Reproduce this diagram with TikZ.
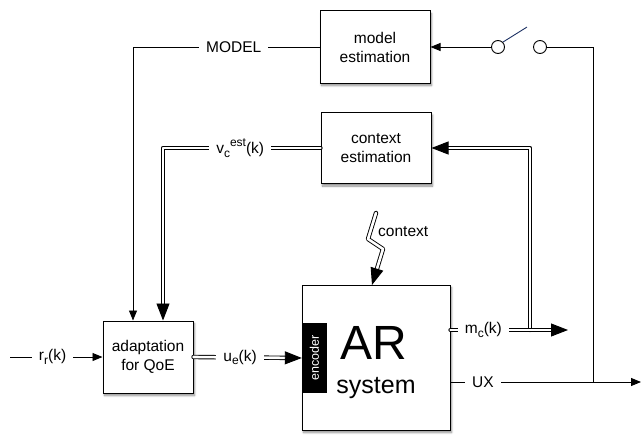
\documentclass[tikz,border=0pt]{standalone}
\usepackage{fontspec}
\setmainfont{Liberation Sans}
\usetikzlibrary{arrows.meta,shadows,shadows.blur,calc}
\definecolor{navyblade}{RGB}{30,50,100}
\newcommand\mysub[1]{\raisebox{-0.45ex}{\fontsize{12}{14}\selectfont #1}}
\newcommand\mysup[1]{\raisebox{0.85ex}{\fontsize{12}{14}\selectfont #1}}
\begin{document}
\begin{tikzpicture}[x=1pt,y=-1pt,
  txt/.style={font=\fontsize{15.5}{19}\selectfont},
  boxnode/.style={draw, line width=1pt, fill=white, txt, align=center, inner sep=0pt,
     blur shadow={shadow xshift=1.5pt, shadow yshift=-2.5pt, shadow blur steps=6, shadow opacity=45}},
  lbl/.style={fill=white, txt, inner xsep=7pt, inner ysep=1pt},
  sarr/.style={line width=0.9pt, -{Triangle[length=10pt,width=8pt]}},
  plain/.style={line width=0.9pt},
  dbl/.style={double, double distance=2.6pt, line width=0.9pt, line cap=round, line join=round,
     -{Triangle[length=17pt,width=13pt]}},
  swc/.style={circle, draw, line width=0.9pt, fill=white, minimum size=13pt, inner sep=0pt}
]
\useasboundingbox (0,0) rectangle (642,436);

% boxes
\node[boxnode, minimum width=110pt, minimum height=72pt] (model) at (375,47) {model\\estimation};
\node[boxnode, minimum width=110pt, minimum height=71pt] (ctx) at (376,148) {context\\estimation};
\node[boxnode, minimum width=90pt, minimum height=72pt] (adapt) at (148,357) {adaptation\\for QoE};
\node[boxnode, minimum width=148pt, minimum height=145pt] (AR) at (376,357.5) {};
\node[fill=black, minimum width=25pt, minimum height=70pt, inner sep=0pt] (enc) at (314.5,358) {};
\node[text=white, rotate=90, font=\fontsize{12.5}{14}\selectfont] (enctxt) at (enc.center) {encoder};
\node[font=\fontsize{48}{50}\selectfont, inner sep=0pt] (artxt) at (374,343) {AR};
\node[font=\fontsize{25}{28}\selectfont, inner sep=0pt] (systxt) at (376,388) {system};

% switch
\node[swc] (sw1) at (498,47) {};
\node[swc] (sw2) at (540,47) {};
\draw[sarr] (sw1.west) -- (model.east);
\draw[line width=0.9pt, navyblade] (sw1.north east) -- ++(24,-15);

% coordinates
\coordinate (cM) at (133,47);
\coordinate (cV) at (163,148);
\coordinate (rin) at (10,357);
\coordinate (mcJ) at (530,330);
\coordinate (mcEnd) at (568,330);
\coordinate (uxJ) at (593,382);
\coordinate (uxEnd) at (641,382);
\coordinate (lt1) at (376,213);
\coordinate (lt2) at (368,239);
\coordinate (lt3) at (383,249);
\coordinate (lt4) at (372,285);

% MODEL path
\draw[sarr] (model.west) -- node[lbl, pos=0.46] (modellbl) {MODEL} (cM) -- (adapt.north -| cM);
% v_c est path
\draw[dbl] (ctx.west) -- node[lbl, pos=0.51] (vlbl) {v\mysub{c}\mysup{est}(k)} (cV) -- (adapt.north -| cV);
% r_r input
\draw[sarr] (rin) -- node[lbl, pos=0.46] (rlbl) {r\mysub{r}(k)} (adapt.west);
% u_e
\draw[dbl] (adapt.east) -- node[lbl, pos=0.43] (ulbl) {u\mysub{e}(k)} (enc.west);
% feedback to context estimation (draw first)
\draw[dbl] (mcJ) -- (mcJ |- ctx.east) -- (ctx.east);
% m_c output
\draw[dbl] (AR.east |- mcEnd) -- node[lbl, pos=0.28] (mlbl) {m\mysub{c}(k)} (mcEnd);
% UX output
\draw[sarr] (AR.east |- uxEnd) -- node[lbl, pos=0.17] (uxlbl) {UX} (uxEnd);
\draw[plain] (uxJ) -- (uxJ |- sw2) -- (sw2.east);
% context lightning
\draw[dbl] (lt1) -- (lt2) -- (lt3) -- (lt4);
\node[txt, anchor=west, inner sep=0pt] (ctxlbl) at (378,232) {context};
\end{tikzpicture}
\end{document}
